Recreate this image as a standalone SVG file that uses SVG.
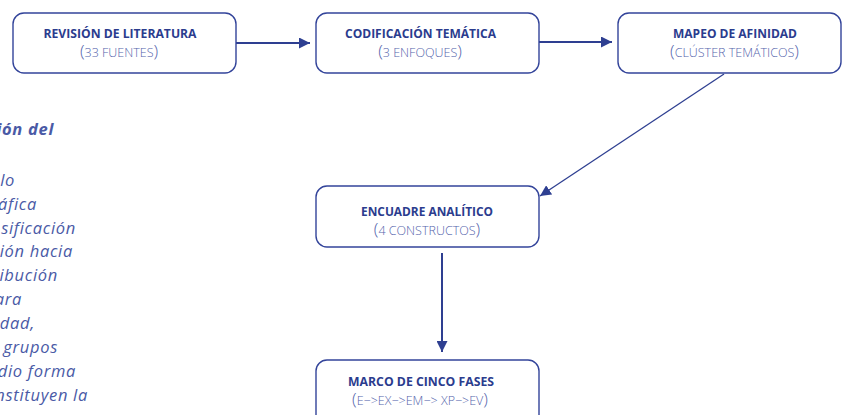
<svg xmlns="http://www.w3.org/2000/svg" width="847" height="415" viewBox="0 0 847 415">
<defs>
<style>
.box{fill:#fff;stroke:#33449a;stroke-width:1.4}
.t{font-family:"Open Sans","Noto Sans",sans-serif;font-weight:700;font-size:11.5px;fill:#2b3c8e;text-anchor:middle}
.s{font-family:"Open Sans","Noto Sans",sans-serif;font-weight:300;font-size:12.5px;fill:#5565ac;text-anchor:middle}
.p{font-size:17px;font-weight:300}
.side{font-family:"Open Sans","Noto Sans",sans-serif;font-style:italic;font-size:16.5px;letter-spacing:0.7px;fill:#4a5aa6;text-anchor:end}
.c{stroke:#2e3f91;fill:none}
</style>
<marker id="ah2" viewBox="0 0 10 10" refX="10" refY="5" markerWidth="11" markerHeight="11" markerUnits="userSpaceOnUse" orient="auto">
<path d="M0,0 L10,5 L0,10 z" fill="#2e3f91"/>
</marker>
</defs>
<rect width="847" height="415" fill="#fff"/>
<g id="side-text">
<text class="side" x="54" y="135" font-weight="700" fill="#3a4a9c">ión del</text>
<text class="side" x="15" y="186">lo</text>
<text class="side" x="37" y="210">áfica</text>
<text class="side" x="76" y="234">sificación</text>
<text class="side" x="73" y="257">ión hacia</text>
<text class="side" x="58" y="281">ibución</text>
<text class="side" x="22" y="305">ara</text>
<text class="side" x="35" y="329">idad,</text>
<text class="side" x="58" y="353">grupos</text>
<text class="side" x="76" y="377">dio forma</text>
<text class="side" x="88" y="401">nstituyen la</text>
</g>
<g id="connectors">
<line class="c" x1="205" y1="43" x2="310" y2="43" stroke-width="2" marker-end="url(#ah2)"/>
<line class="c" x1="509" y1="42" x2="612" y2="42" stroke-width="2" marker-end="url(#ah2)"/>
<line class="c" x1="724" y1="74" x2="540" y2="196" stroke-width="1.3" marker-end="url(#ah2)"/>
<line class="c" x1="442" y1="253" x2="442" y2="352" stroke-width="2" marker-end="url(#ah2)"/>
</g>
<g id="n1">
<rect class="box" x="13" y="13" width="223" height="60" rx="11"/>
<text class="t" x="120" y="38" textLength="153" lengthAdjust="spacingAndGlyphs">REVISIÓN DE LITERATURA</text>
<text class="s" x="119" y="57"><tspan class="p">(</tspan>33 FUENTES<tspan class="p">)</tspan></text>
</g>
<g id="n2">
<rect class="box" x="316" y="13" width="223" height="60" rx="11"/>
<text class="t" x="420.5" y="38" textLength="151" lengthAdjust="spacingAndGlyphs">CODIFICACIÓN TEMÁTICA</text>
<text class="s" x="420" y="57"><tspan class="p">(</tspan>3 ENFOQUES<tspan class="p">)</tspan></text>
</g>
<g id="n3">
<rect class="box" x="618" y="13" width="223" height="60" rx="11"/>
<text class="t" x="735" y="38" textLength="124" lengthAdjust="spacingAndGlyphs">MAPEO DE AFINIDAD</text>
<text class="s" x="734.5" y="57"><tspan class="p">(</tspan>CLÚSTER TEMÁTICOS<tspan class="p">)</tspan></text>
</g>
<g id="n4">
<rect class="box" x="316" y="186" width="223" height="61" rx="11"/>
<text class="t" x="427" y="216" textLength="132" lengthAdjust="spacingAndGlyphs">ENCUADRE ANALÍTICO</text>
<text class="s" x="427" y="235"><tspan class="p">(</tspan>4 CONSTRUCTOS<tspan class="p">)</tspan></text>
</g>
<g id="n5">
<rect class="box" x="316" y="360" width="223" height="70" rx="11"/>
<text class="t" x="421" y="386" textLength="146" lengthAdjust="spacingAndGlyphs">MARCO DE CINCO FASES</text>
<text class="s" x="420" y="405"><tspan class="p">(</tspan>E−&gt;EX−&gt;EM−&gt; XP−&gt;EV<tspan class="p">)</tspan></text>
</g>
</svg>
